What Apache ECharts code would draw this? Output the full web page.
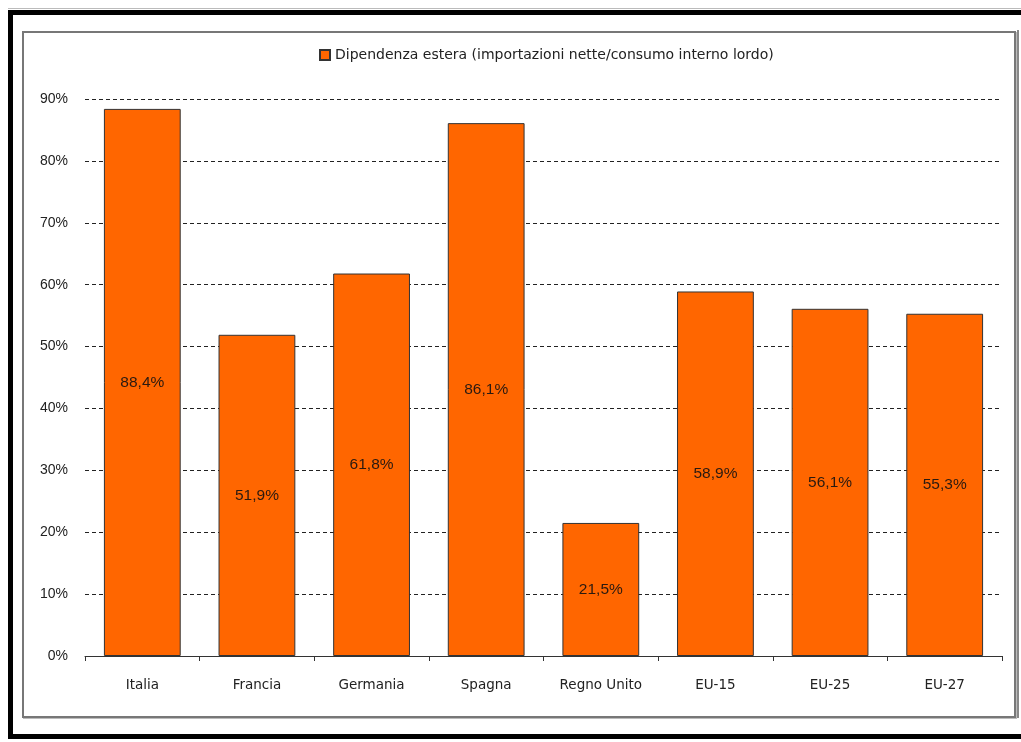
<!DOCTYPE html>
<html>
<head>
<meta charset="utf-8">
<script src="https://cdn.jsdelivr.net/npm/echarts@6/dist/echarts.min.js"></script>
<style>
  html, body { margin: 0; padding: 0; background: #fff; }
  #wrap { position: relative; width: 1021px; height: 742px; overflow: hidden; }
  #outer { position: absolute; left: 8px; top: 10px; width: 1040px; height: 729px;
           border: 5px solid #000; border-right: none; box-sizing: border-box; }
  #outer-rim { position: absolute; left: 8px; top: 8px; width: 1020px; height: 1px; background: #bbb; }
  #inner { position: absolute; left: 22px; top: 31px; width: 994px; height: 687px;
           border: 2px solid #777; box-sizing: border-box; box-shadow: 1px 1px 0 #bbb; }
  #edge { position: absolute; left: 1017px; top: 30px; width: 2px; height: 688px; background: #888; }
  #chart { position: absolute; left: 0; top: 0; width: 1021px; height: 742px; }
</style>
</head>
<body>
<div id="wrap">
  <div id="outer-rim"></div>
  <div id="outer"></div>
  <div id="inner"></div>
  <div id="edge"></div>
  <div id="chart"></div>
</div>
<script>
// Dipendenza energetica dall'estero per paese / aggregato UE
const categories = ['Italia', 'Francia', 'Germania', 'Spagna', 'Regno Unito', 'EU-15', 'EU-25', 'EU-27'];
const dipendenza = [88.4, 51.9, 61.8, 86.1, 21.5, 58.9, 56.1, 55.3];
const seriesName = 'Dipendenza estera (importazioni nette/consumo interno lordo)';

const fmt = v => v.toFixed(1).replace('.', ',') + '%';
const font = 'Liberation Sans, Arial, sans-serif';
const wideFont = 'DejaVu Sans, sans-serif';

const chart = echarts.init(document.getElementById('chart'), null, { renderer: 'canvas' });
chart.setOption({
  animation: false,
  backgroundColor: 'transparent',
  legend: {
    data: [seriesName],
    left: 314,
    top: 43,
    itemWidth: 10,
    itemHeight: 10,
    icon: 'rect',
    textStyle: { fontFamily: wideFont, fontSize: 14, color: '#222' }
  },
  grid: { left: 85, right: 19, top: 99, bottom: 86 },
  xAxis: {
    type: 'category',
    data: categories,
    axisLine: { lineStyle: { color: '#333', width: 1 } },
    axisTick: { show: true, length: 5, lineStyle: { color: '#333' } },
    axisLabel: { margin: 22, fontFamily: wideFont, fontSize: 13.5, color: '#222' }
  },
  yAxis: {
    type: 'value',
    min: 0,
    max: 90,
    interval: 10,
    axisLine: { show: false },
    axisTick: { show: false },
    axisLabel: { margin: 17, fontFamily: font, fontSize: 14, color: '#222', formatter: v => v + '%' },
    splitLine: { lineStyle: { color: '#222', type: [4, 3], width: 1 } }
  },
  series: [{
    name: seriesName,
    type: 'bar',
    data: dipendenza,
    barWidth: '67%',
    itemStyle: { color: '#ff6600', borderColor: '#333', borderWidth: 1 },
    label: {
      show: true,
      position: 'inside',
      fontFamily: font,
      fontSize: 15.5,
      color: '#2a1a10',
      formatter: p => fmt(p.value)
    }
  }]
});
</script>
</body>
</html>
